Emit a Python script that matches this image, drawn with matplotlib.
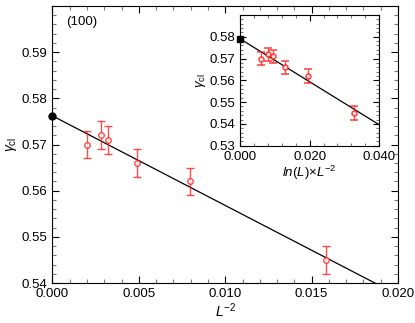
import matplotlib
matplotlib.use("Agg")
import matplotlib.pyplot as plt
import numpy as np
from matplotlib.ticker import MultipleLocator, FormatStrFormatter

plt.rcParams['font.family'] = ['Liberation Sans', 'DejaVu Sans']
plt.rcParams['mathtext.fontset'] = 'custom'
plt.rcParams['mathtext.rm'] = 'Liberation Sans'
plt.rcParams['mathtext.it'] = 'Liberation Sans:italic'

# main data
x_main = [0.00202, 0.00279, 0.00322, 0.00490, 0.00798, 0.01585]
y_vals = [0.570, 0.572, 0.571, 0.566, 0.562, 0.545]
y_err = [0.003, 0.003, 0.003, 0.003, 0.003, 0.003]
fit_main_x = [0.0, 0.020]
fit_main_y = [0.5762, 0.5762 - 1.94 * 0.020]
extrap_main = (0.0, 0.5762)

# inset data
x_inset = [0.0061, 0.0080, 0.0094, 0.0130, 0.0195, 0.0328]
fit_inset_x = [0.0, 0.040]
fit_inset_y = [0.5791, 0.5396]
extrap_inset = (0.0, 0.5791)

red = '#ff2020'

fig = plt.figure(figsize=(4.15, 3.23), dpi=100)
ax = fig.add_axes([0.1265, 0.1238, 0.959 - 0.1265, 0.9814 - 0.1238])
ax.plot(fit_main_x, fit_main_y, color='black', lw=0.9, zorder=2)
ax.errorbar(x_main, y_vals, yerr=y_err, fmt='o', mfc='white', mec=red, ms=4,
            mew=1.0, ecolor=red, elinewidth=1.0, capsize=3, capthick=1.0,
            alpha=0.8, zorder=3)
ax.plot(*extrap_main, 'o', color='black', ms=5, clip_on=False, zorder=4)
ax.set_xlim(0, 0.020)
ax.set_ylim(0.54, 0.60)
ax.xaxis.set_major_locator(MultipleLocator(0.005))
ax.xaxis.set_minor_locator(MultipleLocator(0.001))
ax.yaxis.set_major_locator(MultipleLocator(0.01))
ax.yaxis.set_minor_locator(MultipleLocator(0.002))
ax.xaxis.set_major_formatter(FormatStrFormatter('%.3f'))
ax.yaxis.set_major_formatter(FormatStrFormatter('%.2f'))
ax.set_yticks([0.54, 0.55, 0.56, 0.57, 0.58, 0.59])
ax.tick_params(which='both', direction='in', top=True, right=True, labelsize=9.5)
ax.tick_params(which='major', length=5, width=0.8)
ax.tick_params(which='minor', length=3, width=0.8, color='#777777')
ax.set_xlabel('$L^{-2}$', fontsize=10, labelpad=1)
ax.set_ylabel(r'$\gamma_{\rm cl}$', fontsize=10, labelpad=2)
ax.text(0.04, 0.965, '(100)', transform=ax.transAxes, fontsize=9.5, va='top', ha='left')

ins = fig.add_axes([0.578, 0.549, 0.914 - 0.578, 0.9536 - 0.549])
ins.plot(fit_inset_x, fit_inset_y, color='black', lw=0.9, zorder=2)
ins.errorbar(x_inset, y_vals, yerr=y_err, fmt='o', mfc='white', mec=red, ms=3.5,
             mew=1.2, ecolor=red, elinewidth=1.0, capsize=3, capthick=1.0,
             alpha=0.8, zorder=3)
ins.plot(*extrap_inset, 's', color='black', ms=4.5, clip_on=False, zorder=4)
ins.set_xlim(0, 0.040)
ins.set_ylim(0.53, 0.59)
ins.xaxis.set_major_locator(MultipleLocator(0.020))
ins.xaxis.set_minor_locator(MultipleLocator(0.004))
ins.yaxis.set_major_locator(MultipleLocator(0.01))
ins.yaxis.set_minor_locator(MultipleLocator(0.002))
ins.set_yticks([0.53, 0.54, 0.55, 0.56, 0.57, 0.58])
ins.xaxis.set_major_formatter(FormatStrFormatter('%.3f'))
ins.yaxis.set_major_formatter(FormatStrFormatter('%.2f'))
ins.tick_params(which='both', direction='in', top=True, right=True, labelsize=9.5)
ins.tick_params(which='major', length=4, width=0.8)
ins.tick_params(which='minor', length=2.5, width=0.8, color='#777777')
ins.set_xlabel(r'$ln(L){\times}L^{-2}$', fontsize=9.5, labelpad=1)
ins.set_ylabel(r'$\gamma_{\rm cl}$', fontsize=9.5, labelpad=1)

fig.savefig('out.png', dpi=100)
